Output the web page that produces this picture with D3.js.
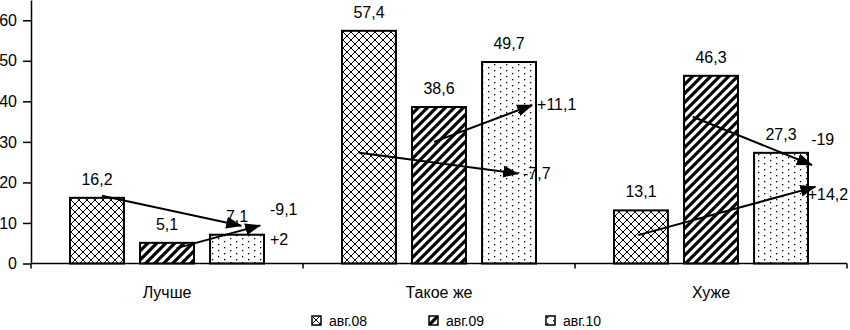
<!DOCTYPE html>
<html>
<head>
<meta charset="utf-8">
<script src="https://cdn.jsdelivr.net/npm/d3@7"></script>
<style>
  body { margin: 0; background: #fff; }
  svg { display: block; font-family: "Liberation Sans", Arial, sans-serif; }
  .axis path, .axis line { stroke: #000; stroke-width: 1.5; }
  .axis text { font-size: 16px; fill: #000; }
</style>
</head>
<body>
<svg id="chart" width="850" height="330"></svg>
<script>
// chart data
var categories = ['Лучше', 'Такое же', 'Хуже'];
var seriesNames = ['авг.08', 'авг.09', 'авг.10'];
var aug08 = [16.2, 57.4, 13.1];
var aug09 = [5.1, 38.6, 46.3];
var aug10 = [7.1, 49.7, 27.3];
var yTicks = [0, 10, 20, 30, 40, 50, 60];

// change arrows: category, start [series pos, value], end [series pos, value], label [series pos, value]
var arrowCats   = ['Лучше', 'Лучше', 'Такое же', 'Такое же', 'Хуже', 'Хуже'];
var arrowFrom   = [[0.07, 16.7], [1.14, 3.8], [-0.14, 27.3], [0.93, 30.0], [0.74, 36.2], [-0.04, 7.0]];
var arrowTo     = [[2.06, 9.3], [2.33, 9.4], [2.13, 22.2], [2.33, 39.1], [2.44, 24.3], [2.49, 18.9]];
var arrowLabels = ['-9,1', '+2', '-7,7', '+11,1', '-19', '+14,2'];
var labelAt     = [[2.47, 13.2], [2.47, 5.8], [2.2, 22.3], [2.4, 39.1], [2.43, 30.5], [2.38, 16.9]];

var seriesValues = [aug08, aug09, aug10];
var dataset = [];
categories.forEach(function (c, ci) {
    seriesNames.forEach(function (s, si) {
        dataset.push({cat: c, series: s, si: si, value: seriesValues[si][ci]});
    });
});

var margin = {left: 31, top: 0};
var chartW = 816, chartH = 263.5;
var svg = d3.select('#chart');

// patterns
var defs = svg.append('defs');
var p0 = defs.append('pattern').attr('id', 'pat0').attr('patternUnits', 'userSpaceOnUse')
    .attr('width', 8).attr('height', 8);
p0.append('rect').attr('width', 8).attr('height', 8).attr('fill', '#fff');
p0.append('path').attr('d', 'M-1,-1 L9,9 M-1,7 L1,9 M7,-1 L9,1 M-1,9 L9,-1 M-1,1 L1,-1 M7,9 L9,7')
    .attr('stroke', '#000').attr('stroke-width', 1);

var p1 = defs.append('pattern').attr('id', 'pat1').attr('patternUnits', 'userSpaceOnUse')
    .attr('width', 9).attr('height', 9);
p1.append('rect').attr('width', 9).attr('height', 9).attr('fill', '#fff');
p1.append('path').attr('d', 'M-1,10 L10,-1 M-5,5 L5,-5 M4,14 L14,4')
    .attr('stroke', '#000').attr('stroke-width', 3.2);

var p2 = defs.append('pattern').attr('id', 'pat2').attr('patternUnits', 'userSpaceOnUse')
    .attr('width', 12).attr('height', 12);
p2.append('rect').attr('width', 12).attr('height', 12).attr('fill', '#fff');
[[1, 1], [7, 4], [1, 7], [7, 10]].forEach(function (d) {
    p2.append('rect').attr('x', d[0]).attr('y', d[1]).attr('width', 1.3).attr('height', 1.3).attr('fill', '#000');
});

defs.append('marker').attr('id', 'head').attr('viewBox', '0 0 16 12')
    .attr('refX', 15).attr('refY', 6).attr('markerWidth', 16).attr('markerHeight', 12)
    .attr('markerUnits', 'userSpaceOnUse').attr('orient', 'auto')
    .append('path').attr('d', 'M0,0 L16,6 L0,12 Z').attr('fill', '#000');

var g = svg.append('g').attr('transform', 'translate(' + margin.left + ',' + margin.top + ')');

var x0 = d3.scaleBand().domain(categories).range([0, chartW]);
var x1 = d3.scaleBand().domain(seriesNames).range([39, x0.bandwidth() - 39]).paddingInner(0.23);
var y = d3.scaleLinear().domain([0, 65]).range([chartH, 0]);

// position within a group, measured in series units (0 = centre of first bar)
var step = x1.step();
function seriesX(cat, pos) {
    return x0(cat) + x1(seriesNames[0]) + x1.bandwidth() / 2 + pos * step;
}

// bars
g.selectAll('rect.bar').data(dataset).enter().append('rect')
    .attr('class', 'bar')
    .attr('x', function (d) { return x0(d.cat) + x1(d.series); })
    .attr('y', function (d) { return y(d.value); })
    .attr('width', x1.bandwidth())
    .attr('height', function (d) { return chartH - y(d.value); })
    .attr('fill', function (d) { return 'url(#pat' + d.si + ')'; })
    .attr('stroke', '#000').attr('stroke-width', 2);

// value labels
g.selectAll('text.val').data(dataset).enter().append('text')
    .attr('class', 'val')
    .attr('x', function (d) { return x0(d.cat) + x1(d.series) + x1.bandwidth() / 2; })
    .attr('y', function (d) { return y(d.value) - 13; })
    .attr('text-anchor', 'middle')
    .style('font-size', '16px')
    .text(function (d) { return String(d.value).replace('.', ','); });

// axes
var yAxis = d3.axisLeft(y).tickValues(yTicks).tickSize(8).tickPadding(6).tickSizeOuter(0);
g.append('g').attr('class', 'axis').call(yAxis);

var bounds = [0].concat(categories.map(function (c) { return x0(c) + x0.bandwidth(); }));
var xg = g.append('g').attr('class', 'axis').attr('transform', 'translate(0,' + chartH + ')');
xg.append('line').attr('x1', 0).attr('x2', chartW).attr('y1', 0).attr('y2', 0);
xg.selectAll('line.tk').data(bounds).enter().append('line').attr('class', 'tk')
    .attr('x1', function (d) { return d; }).attr('x2', function (d) { return d; })
    .attr('y1', 0).attr('y2', 5);
xg.selectAll('text').data(categories).enter().append('text')
    .attr('x', function (d) { return x0(d) + x0.bandwidth() / 2; })
    .attr('y', 34)
    .attr('text-anchor', 'middle')
    .text(function (d) { return d; });

// arrows
arrowCats.forEach(function (c, i) {
    g.append('line')
        .attr('x1', seriesX(c, arrowFrom[i][0])).attr('y1', y(arrowFrom[i][1]))
        .attr('x2', seriesX(c, arrowTo[i][0])).attr('y2', y(arrowTo[i][1]))
        .attr('stroke', '#000').attr('stroke-width', 2)
        .attr('marker-end', 'url(#head)');
    g.append('text')
        .attr('x', seriesX(c, labelAt[i][0])).attr('y', y(labelAt[i][1]))
        .attr('dominant-baseline', 'central')
        .style('font-size', '16px')
        .text(arrowLabels[i]);
});

// legend
var legend = svg.append('g').attr('transform', 'translate(312,316)');
var items = legend.selectAll('g').data(seriesNames).enter().append('g')
    .attr('transform', function (d, i) { return 'translate(' + (i * 117) + ',0)'; });
items.append('rect').attr('width', 9).attr('height', 9)
    .attr('fill', function (d, i) { return 'url(#pat' + i + ')'; })
    .attr('stroke', '#000').attr('stroke-width', 1.5);
items.append('text').attr('x', 17).attr('y', 5).attr('dominant-baseline', 'central')
    .style('font-size', '14px')
    .text(function (d) { return d; });
</script>
</body>
</html>
